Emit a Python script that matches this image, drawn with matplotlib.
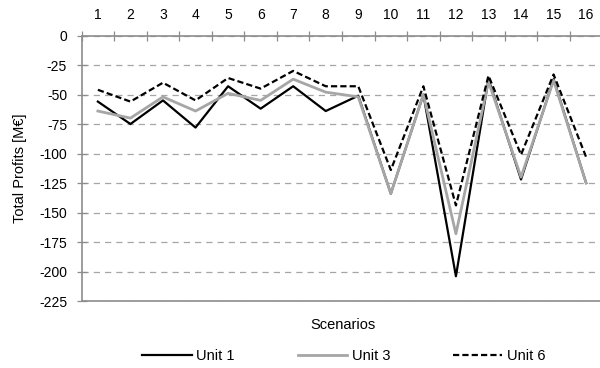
import numpy as np
import matplotlib
matplotlib.use("Agg")
import matplotlib.pyplot as plt
from matplotlib.ticker import MultipleLocator, FixedLocator

plt.rcParams["font.family"] = ["Liberation Sans", "DejaVu Sans"]
plt.rcParams["font.size"] = 10
plt.rcParams["axes.unicode_minus"] = False

# Data
scenarios = list(range(1, 17))
unit1 = [-56, -75, -55, -78, -43, -62, -43, -64, -51, -134, -50, -204, -37, -122, -37, -125]
unit3 = [-64, -70, -52, -64, -49, -55, -37, -48, -52, -134, -50, -168, -39, -120, -38, -125]
unit6 = [-46, -56, -40, -55, -36, -45, -30, -43, -43, -114, -43, -144, -34, -101, -33, -103]

fig = plt.figure(figsize=(6, 3.68), dpi=100)
ax = fig.add_axes([0.136, 0.182, 0.868, 0.7215])

axis_col = "#8c8c8c"
ax.plot(scenarios, unit1, color="black", lw=1.6, label="Unit 1", zorder=3)
ax.plot(scenarios, unit3, color="#a6a6a6", lw=2.0, label="Unit 3", zorder=4)
ax.plot(scenarios, unit6, color="black", lw=1.6, dashes=(2.8, 1.4), label="Unit 6", zorder=5)

ax.set_xlim(0.5, 16.5)
ax.set_ylim(-225, 0)

# x axis on top, labels at category centres, ticks at boundaries
ax.xaxis.tick_top()
ax.xaxis.set_major_locator(FixedLocator(np.arange(0.5, 17.0, 1.0)))
ax.xaxis.set_major_formatter(plt.NullFormatter())
ax.xaxis.set_minor_locator(FixedLocator(scenarios))
ax.set_xticklabels([str(s) for s in scenarios], minor=True)
ax.tick_params(axis="x", which="major", direction="inout", length=7, width=0.9, color=axis_col)
ax.tick_params(axis="x", which="minor", length=0, pad=10, labelsize=10)

ax.yaxis.set_major_locator(MultipleLocator(25))
ax.tick_params(axis="y", direction="inout", length=7, width=0.9, color=axis_col, pad=7,
               labelsize=10)

ax.grid(axis="y", color="#a6a6a6", ls=(0, (5, 4)), lw=0.9)
ax.set_axisbelow(True)

for s in ["left", "top", "bottom"]:
    ax.spines[s].set_color(axis_col)
    ax.spines[s].set_linewidth(1.2)
ax.spines["right"].set_visible(False)

fig.text(20 / 600, 1 - 168 / 368, "Total Profits [M€]", rotation=90, ha="center", va="center",
         fontsize=10.5)
fig.text(0.571, 1 - 325 / 368, "Scenarios", ha="center", va="center", fontsize=10.5)

fig.legend(loc="center", bbox_to_anchor=(0.573, 1 - 356 / 368), ncol=3, frameon=False,
           handlelength=3.4, handletextpad=0.3, columnspacing=4.3, fontsize=10.5)

fig.savefig("out.png", dpi=100)
